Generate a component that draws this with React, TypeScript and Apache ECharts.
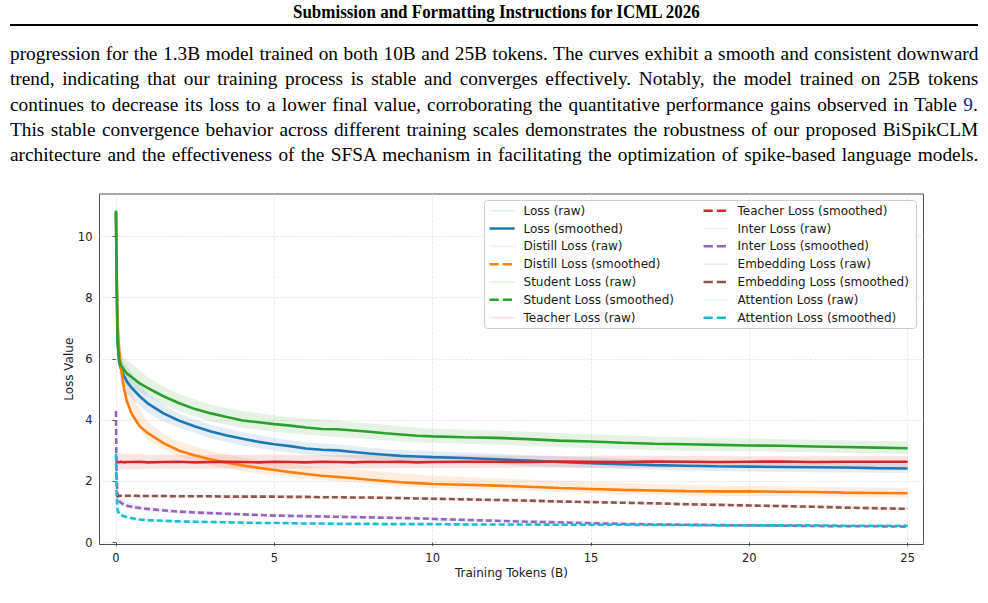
import React, { useEffect, useLayoutEffect, useRef } from 'react';
import * as echarts from 'echarts';

// ---------- page text ----------
const HEADER_TEXT = 'Submission and Formatting Instructions for ICML 2026';
const BODY_LINES: { text: string; link?: boolean }[][] = [
  [{ text: 'progression for the 1.3B model trained on both 10B and 25B tokens. The curves exhibit a smooth and consistent downward' }],
  [{ text: 'trend, indicating that our training process is stable and converges effectively. Notably, the model trained on 25B tokens' }],
  [
    { text: 'continues to decrease its loss to a lower final value, corroborating the quantitative performance gains observed in Table ' },
    { text: '9', link: true },
    { text: '.' },
  ],
  [{ text: 'This stable convergence behavior across different training scales demonstrates the robustness of our proposed BiSpikCLM' }],
  [{ text: 'architecture and the effectiveness of the SFSA mechanism in facilitating the optimization of spike-based language models.' }],
];

// ---------- chart data ----------
// training tokens (billions) at which the smoothed curves are sampled
const TOKENS = [
  0, 0.02, 0.05, 0.1, 0.15, 0.25, 0.35, 0.5, 0.75,
  1, 1.5, 2, 2.5, 3, 3.5, 4, 4.5, 5, 5.5, 6, 6.5, 7, 7.5, 8, 8.5, 9, 9.5, 10,
  11, 12, 13, 14, 15, 16, 17, 18, 19, 20, 21, 22, 23, 24, 25,
];

const LOSS_SMOOTHED = [
  10.8, 8.5, 6.6, 5.9, 5.7, 5.45, 5.25, 5.05, 4.78,
  4.55, 4.22, 3.98, 3.79, 3.63, 3.5, 3.39, 3.29, 3.21, 3.15, 3.07, 3.03, 3.01, 2.96, 2.91, 2.87, 2.83, 2.81, 2.79,
  2.76, 2.72, 2.68, 2.63, 2.59, 2.56, 2.53, 2.51, 2.49, 2.48, 2.47, 2.46, 2.45, 2.43, 2.42,
];
const DISTILL_SMOOTHED = [
  10.8, 9.0, 7.2, 6.3, 5.8, 5.05, 4.6, 4.2, 3.8,
  3.58, 3.25, 3.0, 2.84, 2.71, 2.61, 2.52, 2.44, 2.37, 2.3, 2.24, 2.18, 2.14, 2.1, 2.05, 2.01, 1.97, 1.94, 1.91,
  1.89, 1.86, 1.82, 1.78, 1.75, 1.72, 1.7, 1.68, 1.67, 1.67, 1.66, 1.65, 1.63, 1.62, 1.61,
];
const STUDENT_SMOOTHED = [
  10.85, 8.9, 6.6, 5.95, 5.8, 5.65, 5.52, 5.4, 5.2,
  5.05, 4.78, 4.55, 4.36, 4.22, 4.1, 3.99, 3.93, 3.87, 3.82, 3.76, 3.71, 3.7, 3.66, 3.62, 3.57, 3.53, 3.49, 3.47,
  3.44, 3.42, 3.38, 3.33, 3.3, 3.26, 3.23, 3.21, 3.19, 3.17, 3.16, 3.14, 3.12, 3.1, 3.08,
];
const TEACHER_SMOOTHED = [
  2.6, 2.62, 2.63, 2.62, 2.64, 2.62, 2.63, 2.63, 2.64,
  2.62, 2.63, 2.64, 2.62, 2.63, 2.64, 2.63, 2.62, 2.64, 2.63, 2.62, 2.64, 2.63, 2.62, 2.64, 2.63, 2.64, 2.62, 2.63,
  2.64, 2.64, 2.63, 2.65, 2.64, 2.63, 2.65, 2.64, 2.63, 2.64, 2.65, 2.63, 2.64, 2.64, 2.64,
];
const INTER_SMOOTHED = [
  4.3, 2.2, 1.5, 1.36, 1.3, 1.24, 1.2, 1.17, 1.13,
  1.1, 1.05, 1.01, 0.98, 0.96, 0.94, 0.92, 0.9, 0.88, 0.87, 0.86, 0.85, 0.84, 0.83, 0.82, 0.81, 0.8, 0.79, 0.77,
  0.74, 0.71, 0.68, 0.66, 0.63, 0.61, 0.59, 0.58, 0.57, 0.56, 0.55, 0.54, 0.53, 0.53, 0.52,
];
const EMBEDDING_SMOOTHED = [
  1.53, 1.53, 1.54, 1.53, 1.53, 1.52, 1.53, 1.53, 1.52,
  1.52, 1.52, 1.51, 1.51, 1.51, 1.5, 1.5, 1.5, 1.5, 1.49, 1.49, 1.48, 1.48, 1.47, 1.47, 1.46, 1.45, 1.44, 1.43,
  1.41, 1.39, 1.37, 1.34, 1.32, 1.3, 1.28, 1.25, 1.23, 1.21, 1.19, 1.17, 1.14, 1.12, 1.1,
];
const ATTENTION_SMOOTHED = [
  2.9, 1.6, 1.05, 0.95, 0.9, 0.86, 0.82, 0.79, 0.75,
  0.73, 0.71, 0.69, 0.68, 0.67, 0.66, 0.65, 0.64, 0.64, 0.63, 0.62, 0.62, 0.61, 0.61, 0.61, 0.6, 0.6, 0.6, 0.6,
  0.59, 0.59, 0.59, 0.58, 0.58, 0.58, 0.57, 0.57, 0.56, 0.56, 0.56, 0.56, 0.55, 0.55, 0.55,
];

// spread of the raw (unsmoothed) losses: lower / upper envelope
const RAW_TOKENS = [0, 0.05, 0.15, 0.3, 0.6, 1, 1.5, 2, 3, 4, 5, 6, 7, 8, 9, 10, 12, 14, 16, 18, 20, 22, 24, 25];

const LOSS_RAW_LOW = [10.6, 6.1, 5.2, 4.9, 4.6, 4.25, 3.95, 3.75, 3.4, 3.17, 3.0, 2.88, 2.8, 2.72, 2.65, 2.6, 2.55, 2.46, 2.4, 2.35, 2.32, 2.3, 2.28, 2.27];
const LOSS_RAW_HIGH = [10.9, 7.0, 6.0, 5.8, 5.4, 4.85, 4.5, 4.2, 3.85, 3.6, 3.42, 3.27, 3.2, 3.1, 3.02, 2.98, 2.9, 2.82, 2.74, 2.68, 2.64, 2.62, 2.6, 2.58];
const DISTILL_RAW_LOW = [10.6, 6.5, 5.4, 4.6, 3.9, 3.35, 3.05, 2.8, 2.52, 2.33, 2.2, 2.08, 2.0, 1.92, 1.84, 1.78, 1.72, 1.65, 1.58, 1.54, 1.52, 1.5, 1.48, 1.47];
const DISTILL_RAW_HIGH = [10.9, 7.6, 6.3, 5.6, 4.6, 3.95, 3.55, 3.3, 2.98, 2.78, 2.62, 2.5, 2.42, 2.35, 2.26, 2.18, 2.1, 2.02, 1.95, 1.88, 1.85, 1.82, 1.8, 1.78];
const STUDENT_RAW_LOW = [10.7, 6.3, 5.5, 5.3, 5.0, 4.8, 4.5, 4.3, 3.95, 3.75, 3.62, 3.52, 3.45, 3.38, 3.3, 3.25, 3.2, 3.12, 3.05, 3.0, 2.98, 2.95, 2.92, 2.9];
const STUDENT_RAW_HIGH = [10.9, 7.2, 6.2, 6.0, 5.75, 5.4, 5.1, 4.85, 4.5, 4.3, 4.15, 4.05, 3.98, 3.9, 3.8, 3.72, 3.66, 3.58, 3.5, 3.44, 3.4, 3.36, 3.32, 3.3];
const TEACHER_RAW_LOW = [2.4, 2.35, 2.38, 2.4, 2.38, 2.4, 2.42, 2.4, 2.41, 2.42, 2.4, 2.42, 2.43, 2.42, 2.44, 2.43, 2.44, 2.45, 2.44, 2.45, 2.46, 2.46, 2.45, 2.46];
const TEACHER_RAW_HIGH = [2.9, 2.95, 2.9, 2.88, 2.9, 2.87, 2.88, 2.86, 2.87, 2.86, 2.88, 2.86, 2.85, 2.86, 2.84, 2.85, 2.84, 2.83, 2.84, 2.83, 2.82, 2.82, 2.83, 2.82];
const INTER_RAW_LOW = [4.2, 1.35, 1.22, 1.15, 1.08, 1.03, 0.98, 0.94, 0.9, 0.86, 0.83, 0.8, 0.79, 0.77, 0.76, 0.73, 0.67, 0.62, 0.57, 0.54, 0.52, 0.5, 0.49, 0.48];
const INTER_RAW_HIGH = [4.4, 1.7, 1.42, 1.33, 1.25, 1.18, 1.12, 1.08, 1.02, 0.98, 0.94, 0.92, 0.9, 0.88, 0.86, 0.83, 0.77, 0.72, 0.66, 0.62, 0.6, 0.58, 0.57, 0.56];
const EMBEDDING_RAW_LOW = [1.48, 1.48, 1.48, 1.47, 1.47, 1.47, 1.47, 1.46, 1.46, 1.45, 1.45, 1.44, 1.43, 1.42, 1.41, 1.39, 1.35, 1.3, 1.26, 1.21, 1.17, 1.13, 1.08, 1.06];
const EMBEDDING_RAW_HIGH = [1.58, 1.58, 1.58, 1.57, 1.57, 1.57, 1.57, 1.56, 1.56, 1.55, 1.55, 1.54, 1.53, 1.52, 1.51, 1.49, 1.45, 1.4, 1.36, 1.31, 1.27, 1.23, 1.18, 1.16];
const ATTENTION_RAW_LOW = [2.8, 0.95, 0.84, 0.8, 0.74, 0.69, 0.67, 0.65, 0.63, 0.62, 0.61, 0.6, 0.59, 0.58, 0.58, 0.57, 0.56, 0.56, 0.55, 0.54, 0.53, 0.53, 0.52, 0.52];
const ATTENTION_RAW_HIGH = [3.0, 1.2, 0.98, 0.92, 0.84, 0.78, 0.75, 0.73, 0.71, 0.69, 0.68, 0.66, 0.65, 0.64, 0.64, 0.63, 0.62, 0.61, 0.61, 0.6, 0.59, 0.59, 0.58, 0.58];

const X_TICKS = [0, 5, 10, 15, 20, 25];
const Y_TICKS = [0, 2, 4, 6, 8, 10];

const LEGEND_LEFT = [
  'Loss (raw)', 'Loss (smoothed)', 'Distill Loss (raw)', 'Distill Loss (smoothed)',
  'Student Loss (raw)', 'Student Loss (smoothed)', 'Teacher Loss (raw)',
];
const LEGEND_RIGHT = [
  'Teacher Loss (smoothed)', 'Inter Loss (raw)', 'Inter Loss (smoothed)', 'Embedding Loss (raw)',
  'Embedding Loss (smoothed)', 'Attention Loss (raw)', 'Attention Loss (smoothed)',
];

// ---------- styling ----------
const PAGE_W = 988;
const PAGE_H = 603;
const TEXT_LEFT = 10;
const TEXT_W = 968;
const HEADER_W = 407;
const HEADER_CX = 496.5;
const SERIF = '"Liberation Serif", "Times New Roman", Times, serif';
const SANS = '"DejaVu Sans", Verdana, sans-serif';
const LEGEND_DASH = [9.25, 4];

type Curve = {
  label: string;
  color: string;
  smooth: number[];
  low: number[];
  high: number[];
  plotDash: number[] | null;
  legendDash: number[] | null;
};

const CURVES: Curve[] = [
  { label: 'Loss', color: '#1f77b4', smooth: LOSS_SMOOTHED, low: LOSS_RAW_LOW, high: LOSS_RAW_HIGH, plotDash: null, legendDash: null },
  { label: 'Distill Loss', color: '#ff7f0e', smooth: DISTILL_SMOOTHED, low: DISTILL_RAW_LOW, high: DISTILL_RAW_HIGH, plotDash: null, legendDash: LEGEND_DASH },
  { label: 'Student Loss', color: '#2ca02c', smooth: STUDENT_SMOOTHED, low: STUDENT_RAW_LOW, high: STUDENT_RAW_HIGH, plotDash: null, legendDash: LEGEND_DASH },
  { label: 'Teacher Loss', color: '#d62728', smooth: TEACHER_SMOOTHED, low: TEACHER_RAW_LOW, high: TEACHER_RAW_HIGH, plotDash: null, legendDash: LEGEND_DASH },
  { label: 'Inter Loss', color: '#9467bd', smooth: INTER_SMOOTHED, low: INTER_RAW_LOW, high: INTER_RAW_HIGH, plotDash: [6, 3], legendDash: LEGEND_DASH },
  { label: 'Embedding Loss', color: '#8c564b', smooth: EMBEDDING_SMOOTHED, low: EMBEDDING_RAW_LOW, high: EMBEDDING_RAW_HIGH, plotDash: [6, 3], legendDash: LEGEND_DASH },
  { label: 'Attention Loss', color: '#17becf', smooth: ATTENTION_SMOOTHED, low: ATTENTION_RAW_LOW, high: ATTENTION_RAW_HIGH, plotDash: [6, 3], legendDash: LEGEND_DASH },
];

function rgba(hex: string, a: number): string {
  const n = parseInt(hex.slice(1), 16);
  return `rgba(${(n >> 16) & 255},${(n >> 8) & 255},${n & 255},${a})`;
}

function legendEntry(name: string) {
  const isRaw = name.endsWith('(raw)');
  const label = name.replace(/ \((raw|smoothed)\)$/, '');
  const c = CURVES.find((k) => k.label === label)!;
  return isRaw
    ? { name, lineStyle: { color: rgba(c.color, 0.14), width: 1.5, type: 'solid' } }
    : { name, lineStyle: { color: c.color, width: 2.5, type: c.legendDash ?? 'solid' } };
}

function buildSeries() {
  const out: any[] = [];
  CURVES.forEach((c) => {
    // legend handle for the raw trace
    out.push({
      type: 'line',
      name: `${c.label} (raw)`,
      data: [],
      symbol: 'none',
      lineStyle: { color: rgba(c.color, 0.14), width: 1.5 },
      itemStyle: { color: rgba(c.color, 0.14) },
    });
    // raw spread band
    out.push({
      type: 'custom',
      silent: true,
      data: RAW_TOKENS.map((t, i) => [t, c.low[i], c.high[i]]),
      encode: { x: 0, y: [1, 2] },
      renderItem: (params: any, api: any) => {
        if (params.dataIndex !== 0) return null;
        const upper = RAW_TOKENS.map((t, i) => api.coord([t, c.high[i]]));
        const lower = RAW_TOKENS.map((t, i) => api.coord([t, c.low[i]])).reverse();
        return {
          type: 'polygon',
          shape: { points: upper.concat(lower) },
          style: { fill: rgba(c.color, 0.13), stroke: 'none' },
        };
      },
    });
    // smoothed curve
    out.push({
      type: 'line',
      name: `${c.label} (smoothed)`,
      data: TOKENS.map((t, i) => [t, c.smooth[i]]),
      symbol: 'none',
      lineStyle: { color: c.color, width: 2.6, type: c.plotDash ?? 'solid' },
      itemStyle: { color: c.color },
    });
  });
  return out;
}

function legendBlock(left: number, names: string[]) {
  return {
    show: true,
    orient: 'vertical',
    left,
    top: 204.7,
    padding: 0,
    itemWidth: 25,
    itemHeight: 12,
    itemGap: 5.83,
    selectedMode: false,
    itemStyle: { opacity: 0 },
    textStyle: { fontFamily: SANS, fontSize: 12, color: '#1a1a1a', padding: [0, 0, 0, 4] },
    data: names.map(legendEntry),
  };
}

const AXIS_TEXT = { fontFamily: SANS, fontSize: 11.5, color: '#222' };
const GRID_LINE = { color: '#e4e4e4', width: 0.8, type: [3, 1.3] };
const TICK_LINE = { color: '#333', width: 0.8 };

function buildOption() {
  return {
    animation: false,
    backgroundColor: 'transparent',
    grid: {
      left: 99.5,
      top: 194,
      width: 824,
      height: 350.5,
      show: true,
      borderColor: '#3a3a3a',
      borderWidth: 0.9,
      containLabel: false,
      outerBoundsMode: 'none',
    },
    xAxis: {
      type: 'value',
      min: -0.52,
      max: 25.5,
      axisLine: { show: false },
      axisTick: { show: true, customValues: X_TICKS, length: 3.5, lineStyle: TICK_LINE },
      axisLabel: { customValues: X_TICKS, margin: 7, ...AXIS_TEXT },
      splitLine: { show: true, lineStyle: GRID_LINE },
      name: 'Training Tokens (B)',
      nameLocation: 'middle',
      nameGap: 22,
      nameMoveOverlap: false,
      nameTextStyle: { fontFamily: SANS, fontSize: 12, color: '#1a1a1a' },
    },
    yAxis: {
      type: 'value',
      min: -0.065,
      max: 11.39,
      axisLine: { show: false },
      axisTick: { show: true, customValues: Y_TICKS, length: 3.5, lineStyle: TICK_LINE },
      axisLabel: { customValues: Y_TICKS, margin: 7, ...AXIS_TEXT },
      splitLine: { show: true, lineStyle: GRID_LINE },
      name: 'Loss Value',
      nameLocation: 'middle',
      nameGap: 25,
      nameMoveOverlap: false,
      nameTextStyle: { fontFamily: SANS, fontSize: 12, color: '#1a1a1a' },
    },
    legend: [legendBlock(488.3, LEGEND_LEFT), legendBlock(702.3, LEGEND_RIGHT)],
    graphic: [
      {
        type: 'rect',
        z: 3,
        silent: true,
        shape: { x: 484.5, y: 200.5, width: 432, height: 128, r: 3 },
        style: { fill: 'rgba(255,255,255,0.85)', stroke: '#cfcfcf', lineWidth: 1 },
      },
    ],
    series: buildSeries(),
  };
}

export default function App() {
  const chartRef = useRef<HTMLDivElement | null>(null);
  const headRef = useRef<HTMLDivElement | null>(null);
  const lineRefs = useRef<(HTMLDivElement | null)[]>([]);

  // fit each justified line of the paragraph to the text block width
  useLayoutEffect(() => {
    const els = lineRefs.current.filter(Boolean) as HTMLDivElement[];
    els.forEach((el) => {
      el.style.wordSpacing = '0px';
      el.style.transform = 'none';
    });
    const widths = els.map((el) => el.offsetWidth);
    const squeeze = Math.min(...widths.map((w) => TEXT_W / w)) * 0.985;
    els.forEach((el, i) => {
      const spaces = (el.textContent || '').split(' ').length - 1;
      const extra = TEXT_W / squeeze - widths[i];
      el.style.wordSpacing = `${extra / Math.max(1, spaces)}px`;
      el.style.transform = `scaleX(${squeeze})`;
    });
    const h = headRef.current;
    if (h) {
      h.style.transform = 'none';
      const w = h.offsetWidth;
      h.style.transform = `scaleX(${HEADER_W / w})`;
    }
  }, []);

  useEffect(() => {
    if (!chartRef.current) return;
    const chart = echarts.init(chartRef.current, null, { renderer: 'svg' });
    chart.setOption(buildOption() as any);
    return () => chart.dispose();
  }, []);

  return (
    <div
      style={{
        position: 'fixed',
        left: 0,
        top: 0,
        width: PAGE_W,
        height: PAGE_H,
        background: '#fff',
        overflow: 'hidden',
      }}
    >
      <div ref={chartRef} style={{ position: 'absolute', left: 0, top: 0, width: PAGE_W, height: PAGE_H }} />
      <div
        ref={headRef}
        style={{
          position: 'absolute',
          left: HEADER_CX - HEADER_W / 2,
          top: 2.2,
          whiteSpace: 'nowrap',
          fontFamily: SERIF,
          fontWeight: 'bold',
          fontSize: 18,
          lineHeight: '20px',
          color: '#000',
          transformOrigin: '0 0',
        }}
      >
        {HEADER_TEXT}
      </div>
      <div style={{ position: 'absolute', left: TEXT_LEFT, top: 24, width: TEXT_W, height: 2, background: '#000' }} />
      {BODY_LINES.map((parts, i) => (
        <div
          key={i}
          ref={(el) => {
            lineRefs.current[i] = el;
          }}
          style={{
            position: 'absolute',
            left: TEXT_LEFT,
            top: 41 + 25.25 * i,
            whiteSpace: 'nowrap',
            fontFamily: SERIF,
            fontSize: 19,
            lineHeight: '25px',
            color: '#000',
            transformOrigin: '0 0',
          }}
        >
          {parts.map((p, j) => (
            <span key={j} style={p.link ? { color: '#1c1c8f' } : undefined}>
              {p.text}
            </span>
          ))}
        </div>
      ))}
    </div>
  );
}
